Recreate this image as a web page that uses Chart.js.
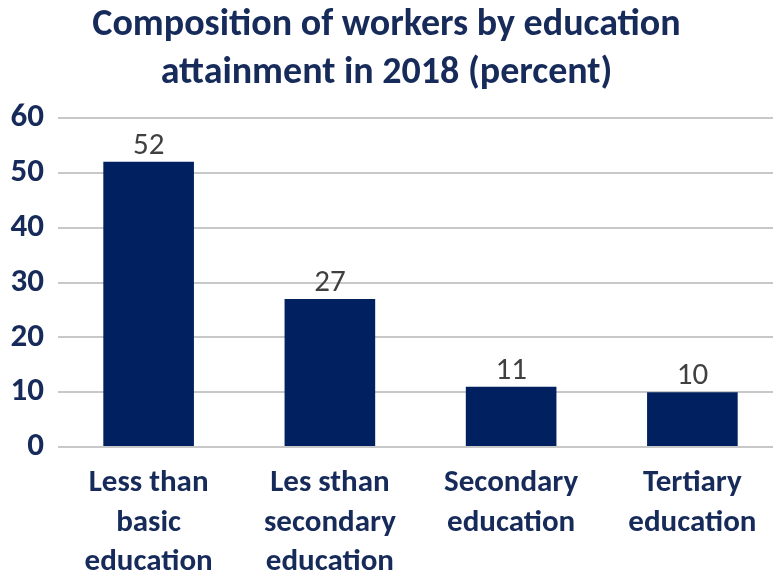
<!DOCTYPE html>
<html>
<head>
<meta charset="utf-8">
<script src="https://cdn.jsdelivr.net/npm/chart.js@4/dist/chart.umd.min.js"></script>
<style>
  html, body { margin: 0; padding: 0; background: #fff; overflow: hidden; }
  #wrap { position: relative; width: 773px; height: 573px; overflow: hidden; }
  #title {
    position: absolute; left: 0; top: -2px; width: 773px;
    text-align: center; font-family: Carlito, "Open Sans", sans-serif; font-weight: bold;
    font-size: 38px; line-height: 48px; color: #172b5a;
  }
  canvas { position: absolute; left: 0; top: 0; }
</style>
</head>
<body>
<div id="wrap">
  <canvas id="myChart" width="786" height="573"></canvas>
  <div id="title">Composition of workers by education<br>attainment in 2018 (percent)</div>
</div>
<script>
const labels = [
  ["Less than", "basic", "education"],
  ["Les sthan", "secondary", "education"],
  ["Secondary", "education"],
  ["Tertiary", "education"]
];
const shares = [52, 27, 11, 10];
const yTicks = [0, 10, 20, 30, 40, 50, 60];

const navy = "#172b5a";
const font = "Carlito, 'Open Sans', sans-serif";

// value labels above each bar
const valueLabels = {
  id: "valueLabels",
  afterDatasetsDraw(chart) {
    const ctx = chart.ctx;
    const meta = chart.getDatasetMeta(0);
    ctx.save();
    ctx.font = "31px " + font;
    ctx.fillStyle = "#404040";
    ctx.textAlign = "center";
    ctx.textBaseline = "alphabetic";
    meta.data.forEach((bar, i) => {
      ctx.fillText(String(shares[i]), bar.x, bar.y - 8);
    });
    ctx.restore();
  }
};

new Chart(document.getElementById("myChart"), {
  type: "bar",
  data: {
    labels: labels,
    datasets: [{
      data: shares,
      backgroundColor: "#002060",
      borderWidth: 0,
      categoryPercentage: 1,
      barPercentage: 0.5
    }]
  },
  options: {
    responsive: false,
    animation: false,
    layout: { padding: { top: 118, right: 3, left: 0, bottom: 0 } },
    plugins: { legend: { display: false }, title: { display: false }, tooltip: { enabled: false } },
    scales: {
      x: {
        grid: { display: false },
        border: { display: false },
        ticks: {
          color: navy,
          font: { family: font, size: 31, weight: "bold", lineHeight: 1.27 },
          padding: 9,
          maxRotation: 0,
          autoSkip: false
        },
        afterFit(axis) { axis.height = 126; }
      },
      y: {
        min: 0,
        max: 60,
        afterBuildTicks(axis) { axis.ticks = yTicks.map(v => ({ value: v })); },
        grid: { color: "#c8c8c8", lineWidth: 2, drawTicks: false },
        border: { display: false },
        ticks: {
          color: navy,
          font: { family: font, size: 33, weight: "bold" },
          padding: 14
        },
        afterFit(axis) { axis.width = 58; }
      }
    }
  },
  plugins: [valueLabels]
});
</script>
</body>
</html>
